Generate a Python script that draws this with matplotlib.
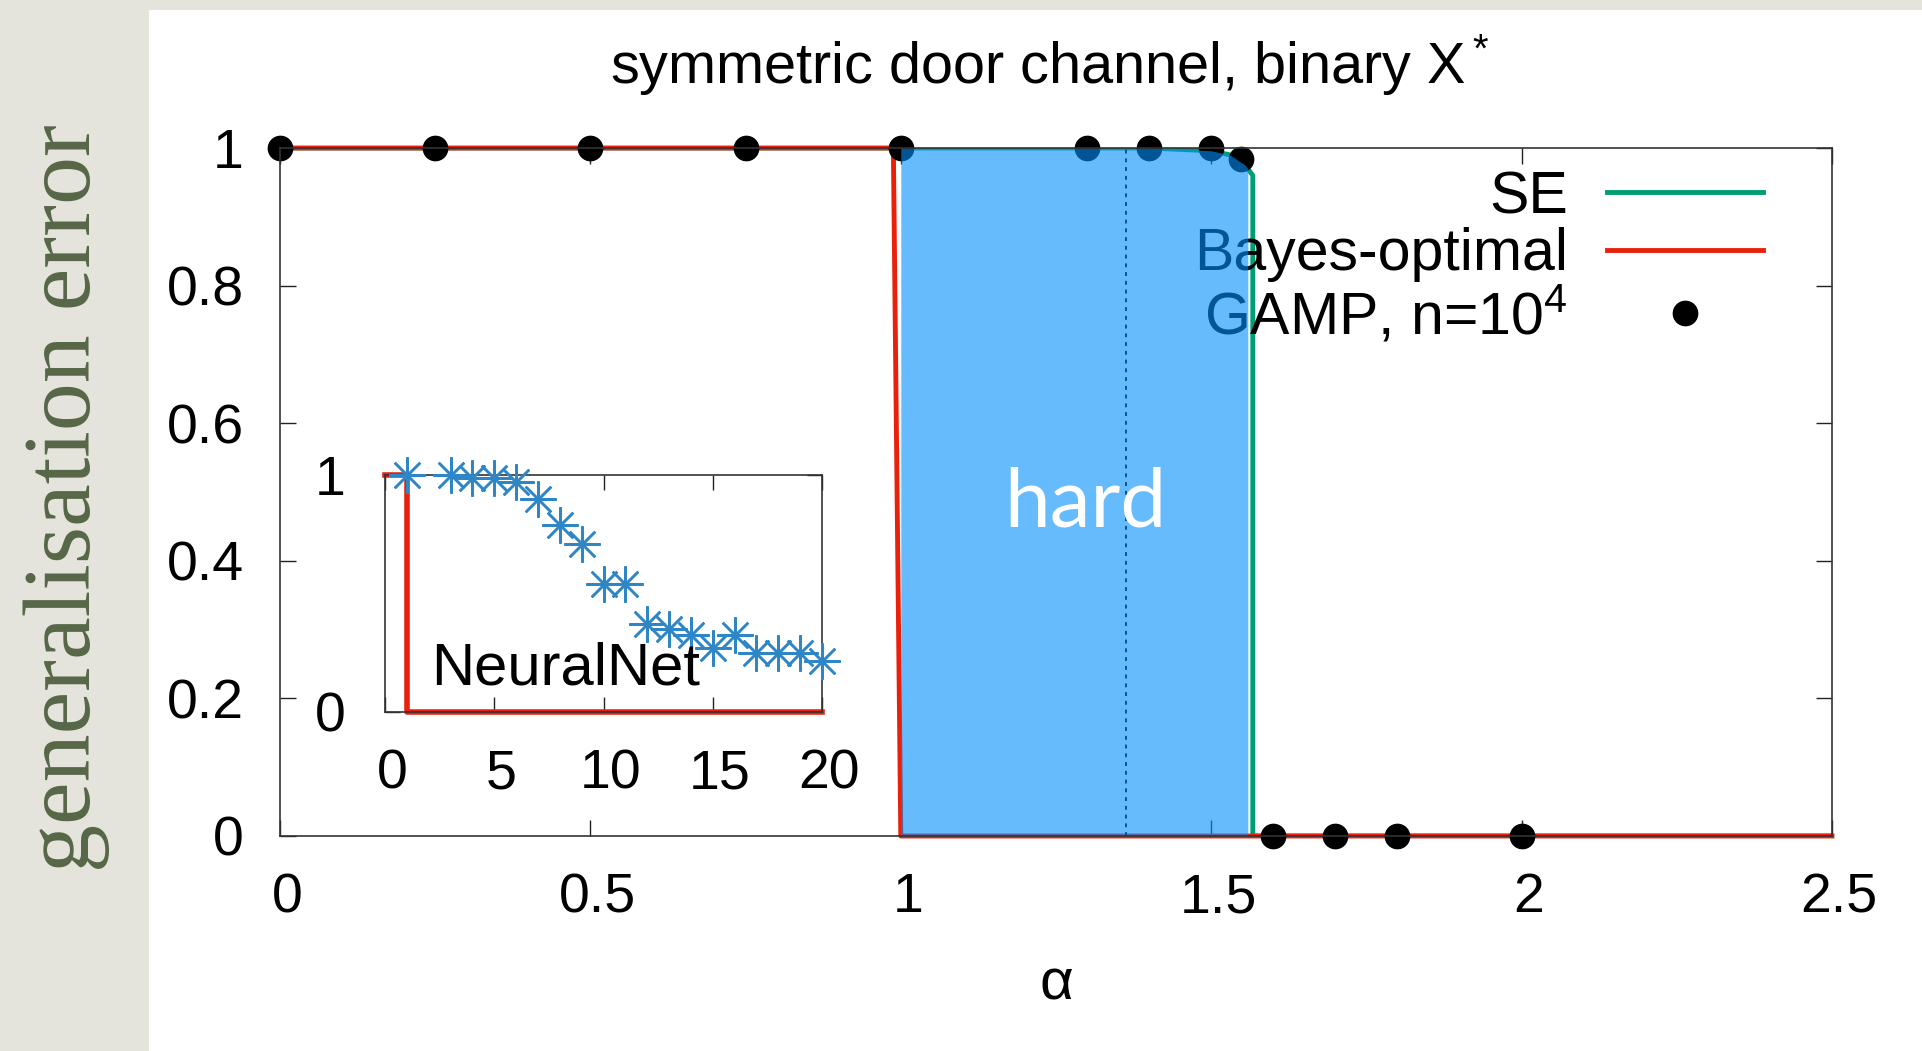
import matplotlib
matplotlib.use('Agg')
import matplotlib.pyplot as plt
from matplotlib.patches import Rectangle
import matplotlib.transforms as mtransforms
import numpy as np

plt.rcParams['font.family'] = ['Liberation Sans', 'DejaVu Sans']
plt.rcParams['mathtext.fontset'] = 'custom'
plt.rcParams['mathtext.rm'] = 'Liberation Sans'
plt.rcParams['mathtext.it'] = 'Liberation Sans:italic'

# ---------------- data ----------------
se_alpha = [0.0, 1.0, 1.40, 1.50, 1.53, 1.555, 1.567, 1.567, 2.5]
se_err = [1.0, 1.0, 1.0, 0.996, 0.990, 0.975, 0.960, 0.0, 0.0]

bo_alpha = [0.0, 0.988, 1.0, 2.5]
bo_err = [1.0, 1.0, 0.0, 0.0]

gamp_alpha = [0.0, 0.25, 0.5, 0.75, 1.0, 1.3, 1.4, 1.5, 1.548, 1.6, 1.7, 1.8, 2.0]
gamp_err = [1.0, 1.0, 1.0, 1.0, 1.0, 1.0, 1.0, 1.0, 0.984, 0.0, 0.0, 0.0, 0.0]

hard_start, hard_end = 1.0, 1.559
hard_mid = 1.363

nn_alpha = [1, 3, 4, 5, 6, 7, 8, 9, 10, 11, 12, 13, 14, 15, 16, 17, 18, 19, 20]
nn_err = [1.0, 1.0, 0.986, 0.986, 0.972, 0.897, 0.789, 0.709, 0.540, 0.540,
          0.371, 0.349, 0.325, 0.269, 0.325, 0.248, 0.248, 0.248, 0.217]

inset_bo_alpha = [0.0, 1.0, 1.0, 20.0]
inset_bo_err = [1.0, 1.0, 0.0, 0.0]

main_xticks = [0, 0.5, 1, 1.5, 2, 2.5]
main_xticklabels = ['0', '0.5', '1', '1.5', '2', '2.5']
main_yticks = [0, 0.2, 0.4, 0.6, 0.8, 1]
main_yticklabels = ['0', '0.2', '0.4', '0.6', '0.8', '1']
inset_xticks = [0, 5, 10, 15, 20]
inset_xticklabels = ['0', '5', '10', '15', '20']
inset_yticks = [0, 1]
inset_yticklabels = ['0', '1']

GREEN = '#009e73'
RED = '#e8200c'
NNBLUE = '#2f86c6'

# ---------------- figure ----------------
W, H = 1922, 1051
fig = plt.figure(figsize=(W / 100, H / 100), dpi=100)
fig.patch.set_facecolor('#e4e3dc')
fig.patches.append(Rectangle((149 / W, 0), 1 - 149 / W, 1 - 10 / H,
                             transform=fig.transFigure, facecolor='white',
                             edgecolor='none', zorder=-5))

# y label in slide style
fig.text(67 / W, 1 - 498 / H, 'generalisation error', rotation=90,
         ha='center', va='center', fontsize=69, color='#566747',
         family=['Liberation Serif', 'DejaVu Serif'])

ax = fig.add_axes([280 / W, 1 - 836 / H, (1832 - 280) / W, (836 - 148) / H])
ax.set_facecolor('white')
ax.set_xlim(0, 2.5)
ax.set_ylim(0, 1)

ax.plot(se_alpha, se_err, color=GREEN, lw=3.5, zorder=2.0, label='SE',
        solid_joinstyle='round')
ax.plot(bo_alpha, bo_err, color=RED, lw=3.5, zorder=2.05, label='Bayes-optimal',
        clip_on=False)
ax.plot(gamp_alpha, gamp_err, 'o', color='black', ms=17.5, zorder=2.2,
        clip_on=False, label='GAMP, n=$\\mathregular{10^4}$')

ax.plot([hard_mid, hard_mid], [0, 1], color='black', lw=1.4,
        ls=(0, (2, 2.5)), zorder=2.1)

xs = np.linspace(hard_start, hard_end, 200)
ax.fill_between(xs, 0, np.interp(xs, se_alpha[:7], se_err[:7]),
                color='#008ffc', alpha=0.6, lw=0, zorder=2.4)

ax.text(1.298, 0.483, 'hard', color='white', fontsize=59, ha='center',
        va='center', family=['Lato', 'DejaVu Sans'], zorder=2.45)

ax.set_xticks(main_xticks)
ax.set_xticklabels(main_xticklabels)
ax.set_yticks(main_yticks)
ax.set_yticklabels(main_yticklabels)
ax.tick_params(direction='in', length=11.5, width=1.0, labelsize=40,
               top=True, right=True, color='#222222')
ax.tick_params(axis='x', pad=26)
ax.tick_params(axis='y', pad=26)
for s in ax.spines.values():
    s.set_linewidth(1.2)
    s.set_color('#333333')

shift = mtransforms.ScaledTranslation(7 / 100, 0, fig.dpi_scale_trans)
for lab in ax.get_xticklabels():
    lab.set_transform(lab.get_transform() + shift)

leg = ax.legend(loc='upper right', bbox_to_anchor=(1763 / W, 1 - 170 / H),
                bbox_transform=fig.transFigure, frameon=False,
                markerfirst=False, fontsize=42.5, handlelength=2.64,
                handletextpad=0.66, labelspacing=0.04, borderpad=0,
                borderaxespad=0)
leg.set_zorder(2.15)

fig.text(1050 / W, 1 - 83 / H, 'symmetric door channel, binary X$\\mathregular{^*}$',
         ha='center', va='baseline', fontsize=41.5)
fig.text(1056 / W, 1 - 984 / H, 'α', ha='center', va='center', fontsize=42)

# ---------------- inset ----------------
ins = fig.add_axes([385 / W, 1 - 712 / H, (822 - 385) / W, (712 - 475) / H])
ins.set_facecolor('white')
ins.set_xlim(0, 20)
ins.set_ylim(0, 1)
ins.plot(inset_bo_alpha, inset_bo_err, color=RED, lw=4.0, zorder=2,
         clip_on=False)
ins.plot(nn_alpha, nn_err, ls='none', marker=(8, 2, 0), ms=26, mew=1.8,
         color=NNBLUE, zorder=3, clip_on=False)
ins.text(2.1, 0.115, 'NeuralNet', fontsize=43, ha='left', va='baseline',
         zorder=4)
ins.set_xticks(inset_xticks)
ins.set_xticklabels(inset_xticklabels)
ins.set_yticks(inset_yticks)
ins.set_yticklabels(inset_yticklabels)
ins.tick_params(direction='in', length=11, width=1.0, labelsize=40,
                top=True, right=True, color='#222222')
ins.tick_params(axis='x', pad=26)
ins.tick_params(axis='y', pad=28)
for s in ins.spines.values():
    s.set_linewidth(1.2)
    s.set_color('#333333')
for lab in ins.get_xticklabels():
    lab.set_transform(lab.get_transform() + shift)

fig.savefig('out.png', dpi=100, facecolor=fig.get_facecolor())
